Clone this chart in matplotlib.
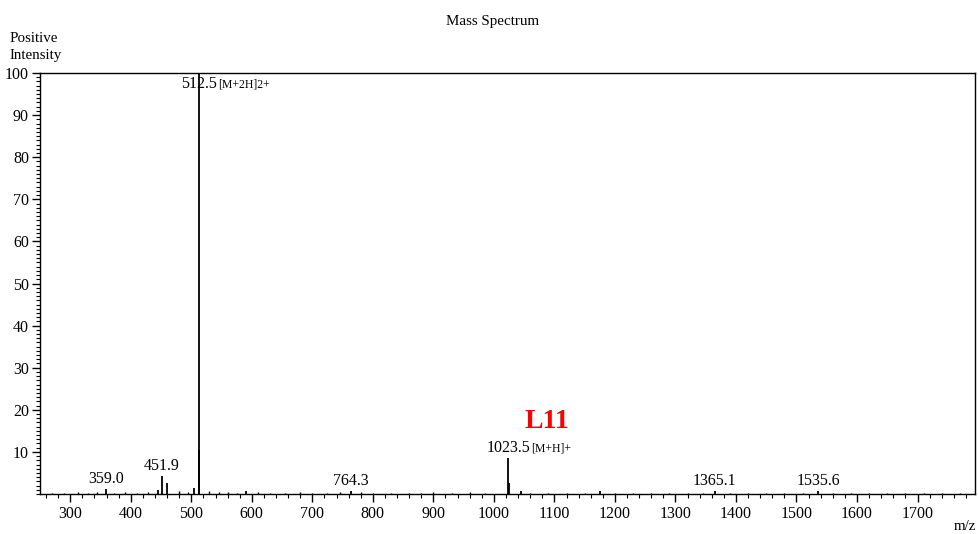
import matplotlib
matplotlib.use("Agg")
import matplotlib.pyplot as plt
from matplotlib.ticker import MultipleLocator

# Peak data (m/z, relative intensity)
peak_mz = [359.0, 445.0, 451.9, 460.0, 505.0, 512.5, 513.0, 590.0, 764.3, 1023.5, 1024.5, 1045.0, 1175.0, 1365.1, 1535.6]
peak_int = [1.2, 0.9, 4.2, 2.7, 1.5, 100.0, 10.5, 0.8, 0.7, 8.5, 2.5, 0.6, 0.7, 0.8, 0.8]

noise_mz = [270, 290, 312, 330, 345, 372, 390, 410, 428, 480, 495, 530, 545, 560, 575, 610, 630, 655, 680, 700, 725, 745, 780, 800, 830, 860, 880, 900, 930, 960, 985, 1060, 1090, 1120, 1150, 1200, 1230, 1260, 1290, 1320, 1345, 1390, 1420, 1450, 1480, 1510, 1560, 1590, 1620, 1650, 1680, 1710, 1740, 1770]
noise_int = [0.3, 0.3, 0.4, 0.3, 0.4, 0.3, 0.4, 0.3, 0.5, 0.6, 0.5, 0.6, 0.4, 0.4, 0.3, 0.4, 0.3, 0.3, 0.4, 0.3, 0.3, 0.4, 0.5, 0.3, 0.3, 0.3, 0.3, 0.5, 0.3, 0.4, 0.3, 0.3, 0.3, 0.3, 0.3, 0.3, 0.3, 0.3, 0.3, 0.3, 0.3, 0.3, 0.3, 0.3, 0.3, 0.3, 0.3, 0.3, 0.3, 0.3, 0.3, 0.3, 0.3, 0.3]

label_mz = [359.0, 451.9, 512.5, 764.3, 1023.5, 1365.1, 1535.6]
label_int = [1.2, 4.2, 100.0, 0.7, 8.5, 0.8, 0.8]
label_text = ["359.0", "451.9", "512.5", "764.3", "1023.5", "1365.1", "1535.6"]
label_suffix = ["", "", "[M+2H]2+", "", "[M+H]+", "", ""]

x_ticks = list(range(300, 1800, 100))
y_ticks = list(range(10, 101, 10))

plt.rcParams['font.family'] = ['Liberation Serif', 'DejaVu Serif']

fig = plt.figure(figsize=(9.79, 5.34), dpi=100)
ax = fig.add_axes([40/979, 1-494/534, (975-40)/979, (494-73)/534])

ax.vlines(noise_mz, 0, noise_int, color='black', lw=1.0)
ax.vlines(peak_mz, 0, peak_int, color='black', lw=1.3)

ax.set_xlim(250, 1795)
ax.set_ylim(0, 100)
ax.set_xticks(x_ticks)
ax.set_yticks(y_ticks)
ax.xaxis.set_minor_locator(MultipleLocator(20))
ax.yaxis.set_minor_locator(MultipleLocator(1))
ax.tick_params(axis='both', which='major', direction='out', length=6, width=1, labelsize=11.5, pad=2)
ax.tick_params(axis='x', which='major', pad=3)
ax.tick_params(axis='both', which='minor', direction='out', length=3, width=0.8)
for s in ax.spines.values():
    s.set_linewidth(1.0)

for mz, h, t, suf in zip(label_mz, label_int, label_text, label_suffix):
    if h >= 99:
        y = 97.3
        txt = ax.text(mz, y, t, ha='center', va='center', fontsize=11.5)
    else:
        txt = ax.annotate(t, xy=(mz, h), xytext=(0, 1.5), textcoords='offset points',
                          ha='center', va='bottom', fontsize=11.5)
    if suf:
        ax.annotate(suf, xy=(1, 0.12), xycoords=txt, xytext=(1, 0), textcoords='offset points',
                    ha='left', va='bottom', fontsize=8.5)

fig.text(493/979, 1-21/534, "Mass Spectrum", ha='center', va='center', fontsize=10.8)
fig.text(10/979, 1-47/534, "Positive\nIntensity", ha='left', va='center', fontsize=10.8, linespacing=1.35)
fig.text(965/979, 1-527/534, "m/z", ha='center', va='center', fontsize=10.8)
fig.text(547/979, 1-421/534, "L11", ha='center', va='center', fontsize=20, color='red', fontweight='bold')

fig.savefig("out.png", dpi=100)
